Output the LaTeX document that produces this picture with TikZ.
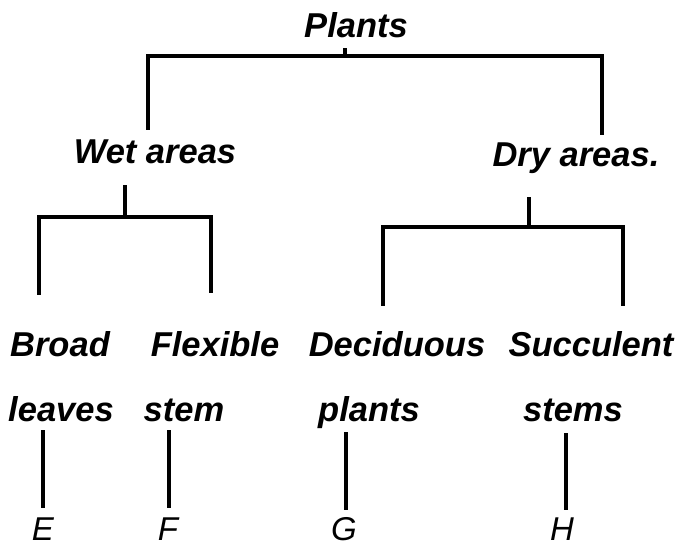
\documentclass[tikz,border=0pt]{standalone}
\usepackage{fontspec}
\setmainfont{Liberation Sans}
\begin{document}
\begin{tikzpicture}[x=1pt,y=-1pt,
  lbl/.style={font=\fontsize{34.5}{34.5}\selectfont\bfseries\itshape, inner sep=0pt,
              text height=24pt, text depth=7pt, anchor=base},
  letter/.style={lbl, font=\fontsize{33}{33}\selectfont\itshape, text depth=0pt},
  ln/.style={line width=3.7pt, line cap=butt, line join=miter}]
\fill[white] (0,0) rectangle (676,548);
\useasboundingbox (0,0) rectangle (676,548);

% labels
\node[lbl] (plants) at (356,38) {Plants};
\node[lbl] (wet) at (155,164) {Wet areas};
\node[lbl] (dry) at (576,166) {Dry areas.};
\node[lbl] (broad) at (60,356) {Broad};
\node[lbl] (flex) at (215,356) {Flexible};
\node[lbl] (decid) at (397,356) {Deciduous};
\node[lbl] (succ) at (591,356) {Succulent};
\node[lbl] (leaves) at (61,421) {leaves};
\node[lbl] (stem) at (184,421) {stem};
\node[lbl] (plantsb) at (369,421) {plants};
\node[lbl] (stems) at (573,421) {stems};
\node[letter] (E) at (43,540) {E};
\node[letter] (F) at (168,540) {F};
\node[letter] (G) at (344,540) {G};
\node[letter] (H) at (562,540) {H};

% junction coordinates
\coordinate (pJ) at (345,56);
\coordinate (pL) at (148,56);
\coordinate (pR) at (602,56);
\coordinate (wJ) at (125,217);
\coordinate (wL) at (39,217);
\coordinate (wR) at (211,217);
\coordinate (dJ) at (529,227);
\coordinate (dL) at (383,227);
\coordinate (dR) at (623,227);
\coordinate (eX) at (43,0);
\coordinate (fX) at (169,0);
\coordinate (gX) at (346,0);
\coordinate (hX) at (566,0);

% Plants -> Wet / Dry
\draw[ln, shorten <=3pt] (plants.south -| pJ) -- (pJ);
\draw[ln, shorten <=10pt, shorten >=7pt] (wet.north -| pL) |- (pJ) -| (dry.north -| pR);

% Wet -> Broad / Flexible
\draw[ln, shorten <=14pt] (wet.south -| wJ) -- (wJ);
\draw[ln, shorten <=37pt, shorten >=39pt] (broad.north -| wL) |- (wJ) -| (flex.north -| wR);

% Dry -> Deciduous / Succulent
\draw[ln, shorten <=24pt] (dry.south -| dJ) -- (dJ);
\draw[ln, shorten <=26pt, shorten >=26pt] (decid.north -| dL) |- (dJ) -| (succ.north -| dR);

% leaves -> letters
\draw[ln, shorten <=2pt, shorten >=8pt] (leaves.south -| eX) -- (E.north -| eX);
\draw[ln, shorten <=2pt, shorten >=8pt] (stem.south -| fX) -- (F.north -| fX);
\draw[ln, shorten <=4pt, shorten >=6pt] (plantsb.south -| gX) -- (G.north -| gX);
\draw[ln, shorten <=5pt, shorten >=6pt] (stems.south -| hX) -- (H.north -| hX);
\end{tikzpicture}
\end{document}
